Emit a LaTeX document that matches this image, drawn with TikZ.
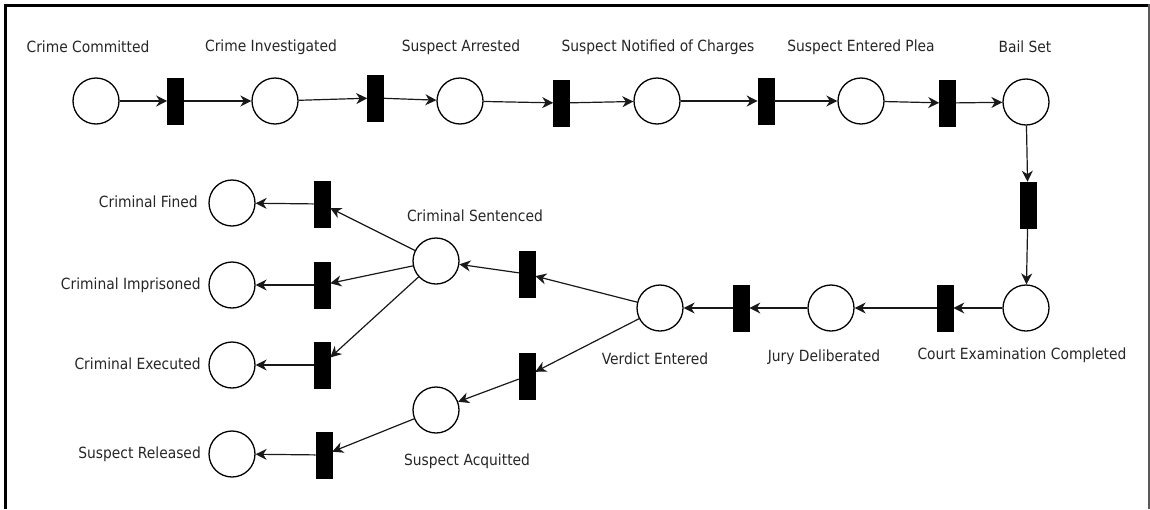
\documentclass[tikz,border=0pt]{standalone}
\usepackage{fontspec}
\setmainfont{DejaVu Sans Condensed}
\usetikzlibrary{arrows.meta}
\begin{document}
\begin{tikzpicture}[x=1pt,y=-1pt,
  place/.style={circle,draw=black,line width=1.3pt,minimum size=46pt,inner sep=0pt,fill=white},
  trans/.style={rectangle,fill=black,draw=black,line width=0.6pt,minimum width=16pt,minimum height=46pt,inner sep=0pt},
  lbl/.style={font=\fontsize{15.4}{17}\selectfont,text=black!85,inner sep=0pt},
  arc/.style={draw=black!90,line width=1.2pt,-{Stealth[length=11pt,width=11pt,inset=3.5pt]}}]
\useasboundingbox (0,0) rectangle (1150,509);
% frame
\draw[line width=3pt] (5.5,509) -- (5.5,5.5) -- (1148,5.5);
\draw[line width=1.5pt,black!65] (1148.8,4) -- (1148.8,509);
% places
\node[place] (p1) at (96,101) {};
\node[place] (p2) at (275,101) {};
\node[place] (p3) at (460,101) {};
\node[place] (p4) at (657,101) {};
\node[place] (p5) at (861,101) {};
\node[place] (p6) at (1026,102) {};
\node[place] (p7) at (1026,308) {};
\node[place] (p8) at (831,308) {};
\node[place] (p9) at (660,308) {};
\node[place] (p10) at (436,261) {};
\node[place] (p11) at (436,410) {};
\node[place] (p12) at (232,203) {};
\node[place] (p13) at (232,285) {};
\node[place] (p14) at (232,365) {};
\node[place] (p15) at (232,454) {};
% transitions
\node[trans] (t1) at (175.5,101) {};
\node[trans] (t2) at (375.5,98) {};
\node[trans] (t3) at (561.5,103) {};
\node[trans] (t4) at (766,101) {};
\node[trans] (t5) at (947.5,103) {};
\node[trans] (t6) at (1028,205) {};
\node[trans] (t7) at (945,308) {};
\node[trans] (t8) at (741,308) {};
\node[trans] (t9) at (527,274) {};
\node[trans] (t10) at (527,376) {};
\node[trans] (t11) at (322,204) {};
\node[trans] (t12) at (322,285) {};
\node[trans] (t13) at (322,365) {};
\node[trans] (t14) at (324,455) {};
% labels
\node[lbl] (l1) at (88,47) {Crime Committed};
\node[lbl] (l2) at (271,47) {Crime Investigated};
\node[lbl] (l3) at (461,47) {Suspect Arrested};
\node[lbl] (l4) at (658,47) {Suspect Notified of Charges};
\node[lbl] (l5) at (861,47) {Suspect Entered Plea};
\node[lbl] (l6) at (1025,47) {Bail Set};
\node[lbl] (l7) at (1022,355) {Court Examination Completed};
\node[lbl] (l8) at (824,357) {Jury Deliberated};
\node[lbl] (l9) at (655,359) {Verdict Entered};
\node[lbl] (l10) at (475,216) {Criminal Sentenced};
\node[lbl] (l11) at (467,461) {Suspect Acquitted};
\node[lbl,anchor=east] (l12) at (198,202) {Criminal Fined};
\node[lbl,anchor=east] (l13) at (201,285) {Criminal Imprisoned};
\node[lbl,anchor=east] (l14) at (201,364) {Criminal Executed};
\node[lbl,anchor=east] (l15) at (201,454) {Suspect Released};
% arcs
\draw[arc] (p1) -- (t1);
\draw[arc] (t1) -- (p2);
\draw[arc] (p2) -- (t2);
\draw[arc] (t2) -- (p3);
\draw[arc] (p3) -- (t3);
\draw[arc] (t3) -- (p4);
\draw[arc] (p4) -- (t4);
\draw[arc] (t4) -- (p5);
\draw[arc] (p5) -- (t5);
\draw[arc] (t5) -- (p6);
\draw[arc] (p6) -- (t6);
\draw[arc] (t6) -- (p7);
\draw[arc] (p7) -- (t7);
\draw[arc] (t7) -- (p8);
\draw[arc] (p8) -- (t8);
\draw[arc] (t8) -- (p9);
\draw[arc] (p9) -- (t9);
\draw[arc] (t9) -- (p10);
\draw[arc] (p9) -- (t10);
\draw[arc] (t10) -- (p11);
\draw[arc] (p10) -- (t11);
\draw[arc] (t11) -- (p12);
\draw[arc] (p10) -- (t12);
\draw[arc] (t12) -- (p13);
\draw[arc] (p10) -- (t13);
\draw[arc] (t13) -- (p14);
\draw[arc] (p11) -- (t14);
\draw[arc] (t14) -- (p15);
\end{tikzpicture}
\end{document}
